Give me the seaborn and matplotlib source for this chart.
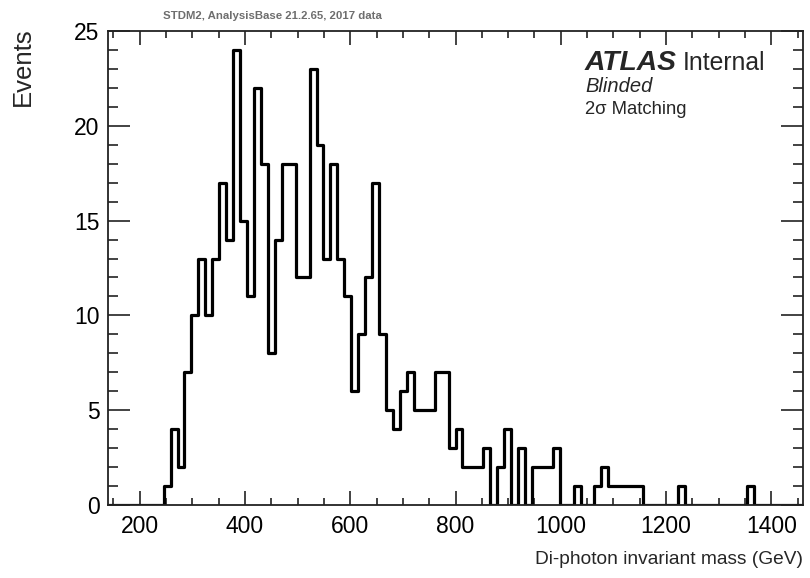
import numpy as np
import pandas as pd
import matplotlib
matplotlib.use("Agg")
import matplotlib.pyplot as plt
import seaborn as sns
from matplotlib.ticker import MultipleLocator

# ---- data ----
x_min, x_max, n_bins = 140.0, 1460.0, 100
counts = [0, 0, 0, 0, 0, 0, 0, 0, 1, 4,
          2, 7, 10, 13, 10, 13, 17, 14, 24, 15,
          11, 22, 18, 8, 14, 18, 18, 12, 12, 23,
          19, 13, 18, 13, 11, 6, 9, 12, 17, 9,
          5, 4, 6, 7, 5, 5, 5, 7, 7, 3,
          4, 2, 2, 2, 3, 0, 2, 4, 0, 3,
          0, 2, 2, 2, 3, 0, 0, 1, 0, 0,
          1, 2, 1, 1, 1, 1, 1, 0, 0, 0,
          0, 0, 1, 0, 0, 0, 0, 0, 0, 0,
          0, 0, 1, 0, 0, 0, 0, 0, 0, 0]
x_ticks = [200, 400, 600, 800, 1000, 1200, 1400]
y_ticks = [0, 5, 10, 15, 20, 25]

edges = np.linspace(x_min, x_max, n_bins + 1)
centers = 0.5 * (edges[:-1] + edges[1:])
df = pd.DataFrame({"mass": centers, "events": counts})

sns.set_style("ticks")
plt.rcParams["font.family"] = ["Liberation Sans", "DejaVu Sans"]

fig = plt.figure(figsize=(8.10, 5.78), dpi=100)
ax = fig.add_axes([108 / 810, 1 - 505 / 578, (803 - 108) / 810, (505 - 31) / 578])

sns.histplot(data=df, x="mass", weights="events", bins=n_bins,
             binrange=(x_min, x_max), element="step",
             fill=False, color="black", linewidth=2.3, ax=ax)

ax.set_xlim(x_min, x_max)
ax.set_ylim(0, 25)
ax.set_xticks(x_ticks)
ax.set_yticks(y_ticks)
ax.xaxis.set_minor_locator(MultipleLocator(50))
ax.yaxis.set_minor_locator(MultipleLocator(1))
ax.tick_params(axis="both", which="both", direction="in", top=True, right=True,
               color="#222222", width=1.2, labelsize=16.5, labelcolor="black")
ax.tick_params(axis="x", which="major", length=10, pad=7)
ax.tick_params(axis="x", which="minor", length=5)
ax.tick_params(axis="y", which="major", length=16, pad=6)
ax.tick_params(axis="y", which="minor", length=7.5)
for s in ax.spines.values():
    s.set_visible(True)
    s.set_linewidth(1.3)
    s.set_color("#222222")

ax.set_xlabel("Di-photon invariant mass (GeV)", fontsize=13.8, loc="right")
ax.xaxis.set_label_coords(1.0, -0.098)
ax.xaxis.label.set_va("top")
ax.set_ylabel("Events", fontsize=18.5, loc="top")
ax.yaxis.set_label_coords(-0.105, 1.008)

fig.text(585 / 810, 1 - 70 / 578, "ATLAS", fontsize=20.3, fontweight="bold",
         fontstyle="italic", ha="left", va="baseline")
fig.text(683 / 810, 1 - 70 / 578, "Internal", fontsize=17.8, ha="left", va="baseline")
fig.text(585 / 810, 1 - 92 / 578, "Blinded", fontsize=14.5, fontstyle="italic",
         ha="left", va="baseline")
fig.text(585 / 810, 1 - 114 / 578, "2σ Matching", fontsize=13.3,
         family=["Liberation Sans", "DejaVu Sans"], ha="left", va="baseline")
fig.text(163 / 810, 1 - 19 / 578, "STDM2, AnalysisBase 21.2.65, 2017 data",
         fontsize=8.2, fontweight="bold", color="#6e6e6e",
         family=["Liberation Sans", "DejaVu Sans"],
         ha="left", va="baseline")

fig.savefig("out.png", dpi=100)
